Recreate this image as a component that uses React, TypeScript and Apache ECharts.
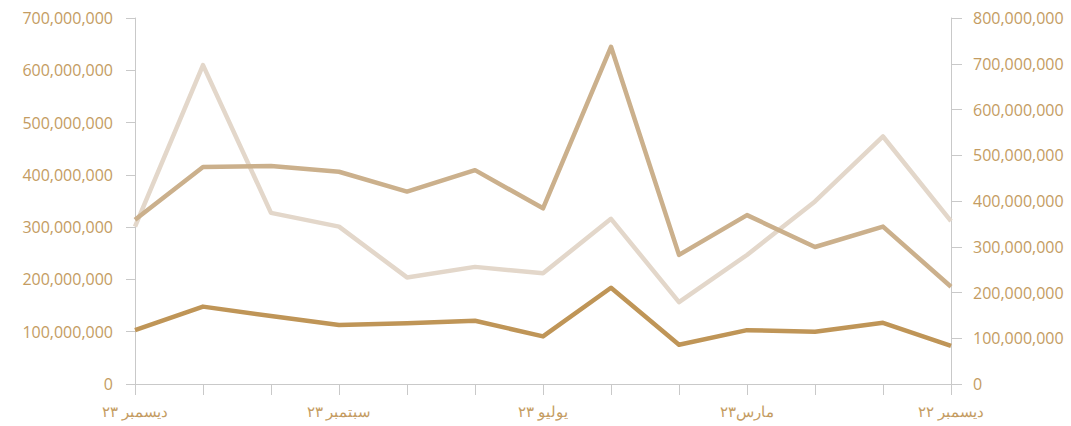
import React, { useEffect, useRef } from "react";
import * as echarts from "echarts";

const categories = ["ديسمبر ٢٣", "", "", "سبتمبر ٢٣", "", "", "يوليو ٢٣", "", "", "مارس٢٣", "", "", "ديسمبر ٢٢"];
const seriesLight = [344, 697, 374, 344, 233, 256, 242, 361, 179, 282, 399, 541, 356].map((v) => v * 1e6);
const seriesMedium = [314, 415, 417, 406, 368, 409, 336, 645, 247, 323, 262, 301, 186].map((v) => v * 1e6);
const seriesDark = [103, 148, 130, 113, 116, 121, 91, 184, 75, 103, 100, 117, 73].map((v) => v * 1e6);
const leftTicks = { min: 0, max: 700000000, interval: 100000000 };
const rightTicks = { min: 0, max: 800000000, interval: 100000000 };

const labelColor = "#c49c62";
const axisColor = "#c9c9c9";
const font = "'Open Sans', sans-serif";

export default function App() {
  const ref = useRef<HTMLDivElement>(null);
  useEffect(() => {
    if (!ref.current) return;
    const chart = echarts.init(ref.current, undefined, { renderer: "svg" });
    const fmt = (v: number) => v.toLocaleString("en-US");
    chart.setOption({
      animation: false,
      grid: { left: 135, right: 120, top: 18, bottom: 42, containLabel: false },
      xAxis: {
        type: "category",
        data: categories,
        boundaryGap: false,
        axisLine: { lineStyle: { color: axisColor, width: 1 } },
        axisTick: { show: true, length: 11, interval: 0, lineStyle: { color: axisColor } },
        axisLabel: {
          interval: 0,
          color: labelColor,
          fontSize: 15,
          fontFamily: font,
          margin: 19,
        },
        splitLine: { show: false },
      },
      yAxis: [
        {
          type: "value",
          position: "left",
          ...leftTicks,
          axisLine: { show: true, lineStyle: { color: axisColor } },
          axisTick: { show: true, length: 9, lineStyle: { color: axisColor } },
          axisLabel: { color: labelColor, fontSize: 16, fontFamily: font, margin: 22, formatter: fmt },
          splitLine: { show: false },
        },
        {
          type: "value",
          position: "right",
          ...rightTicks,
          axisLine: { show: true, lineStyle: { color: axisColor } },
          axisTick: { show: true, length: 11, lineStyle: { color: axisColor } },
          axisLabel: { color: labelColor, fontSize: 16, fontFamily: font, margin: 22, formatter: fmt },
          splitLine: { show: false },
        },
      ],
      series: [
        {
          type: "line",
          yAxisIndex: 1,
          data: seriesLight,
          symbol: "none",
          lineStyle: { color: "#e3d7ca", width: 4.5, join: "round" },
        },
        {
          type: "line",
          yAxisIndex: 0,
          data: seriesMedium,
          symbol: "none",
          lineStyle: { color: "#cbb08c", width: 4.5, join: "round" },
        },
        {
          type: "line",
          yAxisIndex: 0,
          data: seriesDark,
          symbol: "none",
          lineStyle: { color: "#bf9557", width: 4.5, join: "round" },
        },
      ],
    });
    return () => chart.dispose();
  }, []);
  return <div ref={ref} style={{ width: 1071, height: 426, position: "absolute", left: 0, top: 0 }} />;
}
